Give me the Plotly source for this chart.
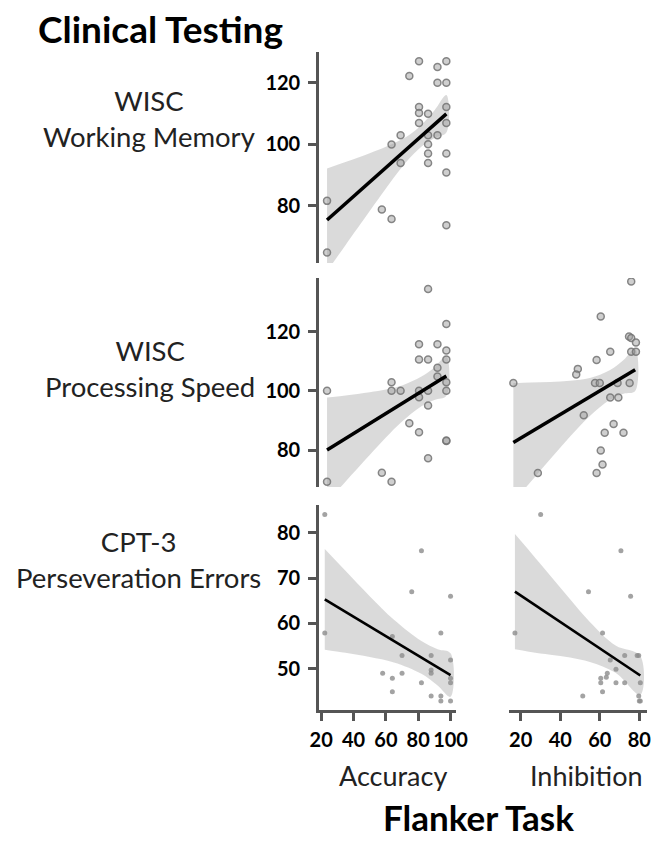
import plotly.graph_objects as go

W, H = 669, 841
FONT = "Lato"

# ---------------- data ----------------
# Row 1: Flanker Accuracy vs WISC Working Memory
acc_wm_x = [23.6, 23.6, 57.5, 63.5, 63.5, 69.1, 69.1, 74.5, 80.5, 80.5, 80.5, 80.5,
            86.1, 86.1, 86.1, 86.1, 86.1, 91.9, 91.9, 91.9, 97.4, 97.4, 97.4, 97.4, 97.4, 97.4, 97.4]
acc_wm_y = [81.6, 64.8, 78.8, 75.7, 99.9, 102.9, 93.9, 122.2, 127.0, 112.1, 110.2, 106.9,
            109.9, 102.9, 100.0, 97.0, 93.9, 125.1, 120.0, 102.9, 127.0, 120.0, 112.1, 106.9, 97.0, 90.8, 73.7]
acc_wm_line_x = [23.6, 97.4]
acc_wm_line_y = [75.4, 109.9]
acc_wm_band_x = [23.6, 35, 50, 60, 70, 80, 90, 97.4]
acc_wm_band_hi = [92.1, 94.2, 97.1, 99.2, 101.6, 105.3, 111.0, 116.0]
acc_wm_band_lo = [58.7, 67.2, 78.3, 85.6, 92.6, 98.3, 102.0, 103.8]

# Row 2: Flanker Accuracy vs WISC Processing Speed
acc_ps_x = [23.6, 23.6, 57.5, 63.5, 63.5, 63.5, 69.1, 74.5, 80.5, 80.5, 80.5, 80.5, 80.5,
            86.1, 86.1, 86.1, 86.1, 86.1, 91.9, 91.9, 91.9, 97.4, 97.4, 97.4, 97.4, 97.4, 97.4, 97.4]
acc_ps_y = [100.0, 69.3, 72.3, 69.3, 102.9, 100.0, 100.0, 89.0, 86.0, 97.8, 110.6, 115.7, 100.0,
            134.4, 110.6, 100.0, 95.0, 77.2, 115.7, 107.8, 104.8, 122.6, 113.6, 110.6, 102.9, 100.0, 83.0, 83.2]
acc_ps_line_x = [23.6, 97.4]
acc_ps_line_y = [80.0, 105.0]
acc_ps_band_x = [23.6, 35, 50, 60, 70, 82, 90, 97.4]
acc_ps_band_hi = [97.7, 98.4, 99.5, 100.4, 101.8, 104.8, 107.9, 111.7]
acc_ps_band_lo = [62.3, 69.3, 78.3, 84.2, 89.6, 94.8, 96.9, 98.3]

# Row 2: Flanker Inhibition vs WISC Processing Speed
inh_ps_x = [75.9, 60.5, 74.8, 75.9, 78.3, 65.3, 75.9, 78.3, 58.4, 48.9, 48.1, 16.3, 57.6, 60.0,
            69.0, 75.1, 65.3, 69.4, 51.9, 67.0, 62.5, 72.0, 60.5, 61.4, 58.4, 28.7]
inh_ps_y = [136.9, 125.1, 118.3, 117.8, 116.3, 113.2, 113.2, 113.2, 110.4, 107.4, 105.5, 102.6, 102.6, 102.6,
            102.6, 102.6, 97.7, 97.7, 91.7, 88.8, 85.8, 85.8, 79.8, 75.1, 72.2, 72.2]
inh_ps_line_x = [16.3, 77.9]
inh_ps_line_y = [82.5, 107.1]
inh_ps_band_x = [16.3, 25, 35, 45, 55, 65, 72, 77.9]
inh_ps_band_hi = [102.6, 102.8, 103.0, 103.4, 104.3, 106.9, 110.4, 114.3]
inh_ps_band_lo = [62.4, 69.2, 77.0, 84.6, 91.5, 96.9, 99.0, 99.9]

# Row 3: Flanker Accuracy vs CPT-3 Perseveration Errors
acc_cpt_x = [22.2, 22.2, 82, 76, 100, 94, 64, 70, 88, 100, 88, 88, 58, 64, 70, 82, 100, 100,
             64, 88, 94, 94, 100]
acc_cpt_y = [84.0, 57.9, 76.0, 67.0, 66.0, 57.9, 57.1, 52.9, 52.9, 51.9, 49.7, 49.0, 49.0, 47.9,
             49.0, 46.9, 46.9, 47.9, 44.9, 44.0, 44.0, 42.9, 42.9]
acc_cpt_line_x = [22.2, 100]
acc_cpt_line_y = [65.3, 48.6]
acc_cpt_band_x = [22.2, 35, 50, 65, 82, 92, 100]
acc_cpt_band_hi = [76.4, 71.6, 66.0, 60.8, 56.1, 54.3, 53.4]
acc_cpt_band_lo = [54.2, 53.5, 52.6, 51.4, 48.9, 46.3, 43.8]

# Row 3: Flanker Inhibition vs CPT-3 Perseveration Errors
inh_cpt_x = [30.1, 17.1, 70.7, 75.6, 54.3, 61.4, 72.6, 78.9, 79.7, 65.3, 68.2, 63.8, 60.5, 60.5,
             63.3, 68.2, 72.6, 80.5, 61.4, 51.4, 79.7, 80.0, 80.5]
inh_cpt_y = [84.0, 57.9, 76.0, 66.0, 67.0, 57.9, 52.9, 52.9, 52.9, 51.9, 49.9, 49.0, 47.9, 46.9,
             48.1, 46.9, 46.9, 46.9, 44.9, 44.0, 44.0, 42.9, 42.9]
inh_cpt_line_x = [17.1, 80.5]
inh_cpt_line_y = [67.0, 48.5]
inh_cpt_band_x = [17.1, 25, 35, 45, 55, 68, 80.5]
inh_cpt_band_hi = [79.7, 75.7, 70.5, 65.3, 60.3, 55.1, 52.8]
inh_cpt_band_lo = [54.3, 53.7, 53.1, 52.5, 51.5, 49.1, 44.2]

row_labels = ["WISC<br>Working Memory", "WISC<br>Processing Speed", "CPT-3<br>Perseveration Errors"]
col_labels = ["Accuracy", "Inhibition"]
title_text = "Clinical Testing"
xtitle_text = "Flanker Task"
row1_yticks = [80, 100, 120]
row2_yticks = [80, 100, 120]
row3_yticks = [50, 60, 70, 80]
acc_xticks = [20, 40, 60, 80, 100]
inh_xticks = [20, 40, 60, 80]

# ---------------- layout helpers ----------------
def fx(px):
    return px / W

def fy(py):
    return 1 - py / H

AX = "#555555"
BAND = "rgba(205,205,205,0.75)"

fig = go.Figure()

panels = [
    ("x", "y", acc_wm_x, acc_wm_y, acc_wm_line_x, acc_wm_line_y, acc_wm_band_x, acc_wm_band_hi, acc_wm_band_lo, True),
    ("x2", "y2", acc_ps_x, acc_ps_y, acc_ps_line_x, acc_ps_line_y, acc_ps_band_x, acc_ps_band_hi, acc_ps_band_lo, True),
    ("x3", "y3", inh_ps_x, inh_ps_y, inh_ps_line_x, inh_ps_line_y, inh_ps_band_x, inh_ps_band_hi, inh_ps_band_lo, True),
    ("x4", "y4", acc_cpt_x, acc_cpt_y, acc_cpt_line_x, acc_cpt_line_y, acc_cpt_band_x, acc_cpt_band_hi, acc_cpt_band_lo, False),
    ("x5", "y5", inh_cpt_x, inh_cpt_y, inh_cpt_line_x, inh_cpt_line_y, inh_cpt_band_x, inh_cpt_band_hi, inh_cpt_band_lo, False),
]

for xa, ya, px_, py_, lx, ly, bx, bhi, blo, big in panels:
    fig.add_trace(go.Scatter(
        x=bx + bx[::-1], y=bhi + blo[::-1], xaxis=xa, yaxis=ya,
        mode="lines", fill="toself", fillcolor=BAND,
        line=dict(width=0, shape="spline"), hoverinfo="skip", showlegend=False))
    if big:
        marker = dict(size=7, color="rgba(160,160,160,0.5)",
                      line=dict(color="rgba(115,115,115,0.85)", width=1.5))
    else:
        marker = dict(size=5, color="rgba(140,140,140,0.8)", line=dict(width=0))
    fig.add_trace(go.Scatter(x=px_, y=py_, xaxis=xa, yaxis=ya, mode="markers",
                             marker=marker, showlegend=False))
    fig.add_trace(go.Scatter(x=lx, y=ly, xaxis=xa, yaxis=ya, mode="lines",
                             line=dict(color="black", width=3.5 if big else 2.6),
                             showlegend=False))

left_dom = [fx(320), fx(461.7)]
right_dom = [fx(516), fx(658.3)]
row1_dom = [fy(263), fy(52)]
row2_dom = [fy(487), fy(278)]
row3_dom = [fy(710), fy(505)]
acc_range = [18.6, 103.5]
inh_range = [14.0, 83.7]
row1_range = [61.4, 130.0]
row2_range = [67.5, 138.1]
row3_range = [40.9, 86.1]

tickfont = dict(family=FONT, size=20, color="black", weight="bold")

def yax(dom, rng, ticks, visible, anchor):
    d = dict(domain=dom, range=rng, anchor=anchor, showgrid=False, zeroline=False)
    if visible:
        d.update(showline=True, linecolor=AX, linewidth=2.5, ticks="outside", ticklen=8,
                 tickwidth=2.5, tickcolor=AX, tickvals=ticks, tickfont=tickfont,
                 ticklabelstandoff=4)
    else:
        d.update(visible=False)
    return d

def xax(dom, rng, ticks, visible, anchor):
    d = dict(domain=dom, range=rng, anchor=anchor, showgrid=False, zeroline=False)
    if visible:
        d.update(showline=True, linecolor=AX, linewidth=2.5, ticks="outside", ticklen=8,
                 tickwidth=2.5, tickcolor=AX, tickvals=ticks, tickfont=tickfont,
                 tickangle=0, ticklabelstandoff=2)
    else:
        d.update(visible=False)
    return d

fig.update_layout(
    width=W, height=H, margin=dict(l=0, r=0, t=0, b=0),
    paper_bgcolor="white", plot_bgcolor="white", showlegend=False,
    xaxis=xax(left_dom, acc_range, acc_xticks, False, "y"),
    yaxis=yax(row1_dom, row1_range, row1_yticks, True, "x"),
    xaxis2=xax(left_dom, acc_range, acc_xticks, False, "y2"),
    yaxis2=yax(row2_dom, row2_range, row2_yticks, True, "x2"),
    xaxis3=xax(right_dom, inh_range, inh_xticks, False, "y3"),
    yaxis3=yax(row2_dom, row2_range, row2_yticks, False, "x3"),
    xaxis4=xax(left_dom, acc_range, acc_xticks, True, "y4"),
    yaxis4=yax(row3_dom, row3_range, row3_yticks, True, "x4"),
    xaxis5=xax(right_dom, inh_range, inh_xticks, True, "y5"),
    yaxis5=yax(row3_dom, row3_range, row3_yticks, False, "x5"),
)

ann = []
ann.append(dict(text=title_text, x=fx(28), y=fy(28), xanchor="left", yanchor="middle",
                font=dict(family=FONT, size=37, color="black", weight="bold")))
label_pos = [(145, 119), (146, 368), (134, 559)]
for lab, (lx, ly) in zip(row_labels, label_pos):
    ann.append(dict(text=lab, x=fx(lx), y=fy(ly), xanchor="center", yanchor="middle",
                    align="center",
                    font=dict(family=FONT, size=27.5, color="#222222")))
ann.append(dict(text=col_labels[0], x=fx(396), y=fy(775), xanchor="center", yanchor="middle",
                font=dict(family=FONT, size=27, color="#222222")))
ann.append(dict(text=col_labels[1], x=fx(596), y=fy(775), xanchor="center", yanchor="middle",
                font=dict(family=FONT, size=27, color="#222222")))
ann.append(dict(text=xtitle_text, x=fx(485), y=fy(840), xanchor="center", yanchor="bottom",
                font=dict(family=FONT, size=35, color="black", weight="bold")))
for a in ann:
    a.update(xref="paper", yref="paper", showarrow=False)
fig.update_layout(annotations=ann)

fig.write_html("out.html", config={"displayModeBar": False},
               post_script="document.body.style.margin='0';document.body.style.padding='0';"
                           "document.documentElement.style.overflow='hidden';")
